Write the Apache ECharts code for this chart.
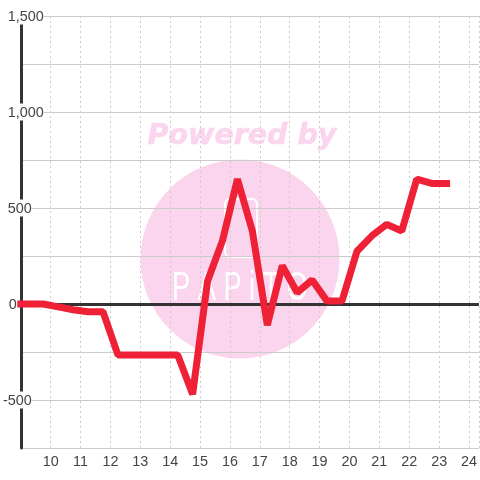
<!DOCTYPE html>
<html>
<head>
<meta charset="utf-8">
<style>
  html, body { margin: 0; padding: 0; background: #fff; }
  #chart { width: 480px; height: 480px; }
</style>
<script src="https://cdn.jsdelivr.net/npm/echarts@6/dist/echarts.min.js"></script>
</head>
<body>
<div id="chart"></div>
<script>
// hour of day, read at half-hour steps
const hours = [9, 9.25, 9.75, 10.25, 10.75, 11.25, 11.75, 12.25, 12.75, 13.25, 13.75, 14.25, 14.75, 15.25, 15.75, 16.25, 16.75, 17.25, 17.75, 18.25, 18.75, 19.25, 19.75, 20.25, 20.75, 21.25, 21.75, 22.25, 22.75, 23.25]
const values = [0, 0, 0, -15, -30, -40, -40, -265, -265, -265, -265, -265, -470, 120, 330, 650, 380, -110, 200, 60, 125, 15, 15, 275, 355, 415, 380, 650, 628, 628]
const labelledTicks = [1500, 1000, 500, 0, -500]
// gap kept right of each y label so it sits where the reference has it
const labelGaps = { '1500': 0, '1000': 0, '500': 12, '0': 27, '-500': 12 }

const chart = echarts.init(document.getElementById('chart'))

chart.setOption({
  animation: false,
  textStyle: { fontFamily: 'Liberation Sans' },
  grid: { left: 20, right: 0, top: 16, bottom: 32 },
  graphic: [
    { type: 'circle', silent: true, z: -10, shape: { cx: 240, cy: 259, r: 99.5 }, style: { fill: '#fbd5ee' } },
    { type: 'text', silent: true, z: -10, x: 242, y: 137, style: { text: 'Powered by', fill: '#fbd5ee', stroke: '#fbd5ee', lineWidth: 0.6, font: 'italic bold 28.5px "DejaVu Sans"', align: 'center', verticalAlign: 'middle' } },
    { type: 'rect', silent: true, z: -9, shape: { x: 225, y: 199, width: 32, height: 58, r: 5 }, style: { fill: 'none', stroke: '#fff', lineWidth: 2 } },
    { type: 'text', silent: true, z: -9, x: 240, y: 289, scaleX: 0.68, originX: 0, style: { text: 'P A P i T O', fill: '#fff', font: '40px "Liberation Sans"', align: 'center', verticalAlign: 'middle' } }
  ],
  xAxis: {
    type: 'value',
    min: 9,
    max: 24.333,
    interval: 1,
    axisLine: { show: false },
    axisTick: { show: false },
    axisLabel: { showMinLabel: false, showMaxLabel: false, color: '#444', fontSize: 14.4, margin: 7 },
    splitLine: { show: true, lineStyle: { color: '#ccc', width: 1, type: [2, 3] } }
  },
  yAxis: {
    type: 'value',
    min: -750,
    max: 1500,
    interval: 250,
    axisLine: { show: true, onZero: false, lineStyle: { color: '#333', width: 3 } },
    axisTick: { show: false },
    axisLabel: {
      margin: -23,
      align: 'right',
      formatter: v => labelledTicks.includes(v) ? `{t|${v.toLocaleString('en-US')}}{g${labelGaps[v]}|}` : '',
      rich: {
        t: { color: '#444', fontSize: 14.4, backgroundColor: '#fff', lineHeight: 15, padding: [3, 0, 0, 0] },
        g0: { width: 0 },
        g12: { width: 12 },
        g27: { width: 27 }
      }
    },
    splitLine: { show: true, lineStyle: { color: '#ccc', width: 1 } }
  },
  series: [
    {
      type: 'line',
      data: hours.map((h, i) => [h, values[i]]),
      showSymbol: false,
      clip: false,
      z: 5,
      lineStyle: { color: '#ef2136', width: 7, join: 'bevel', cap: 'square' },
      markLine: {
        silent: true,
        symbol: 'none',
        label: { show: false },
        z: 3,
        lineStyle: { color: '#333', width: 3, type: 'solid' },
        data: [{ yAxis: 0 }]
      }
    }
  ]
})
</script>
</body>
</html>
